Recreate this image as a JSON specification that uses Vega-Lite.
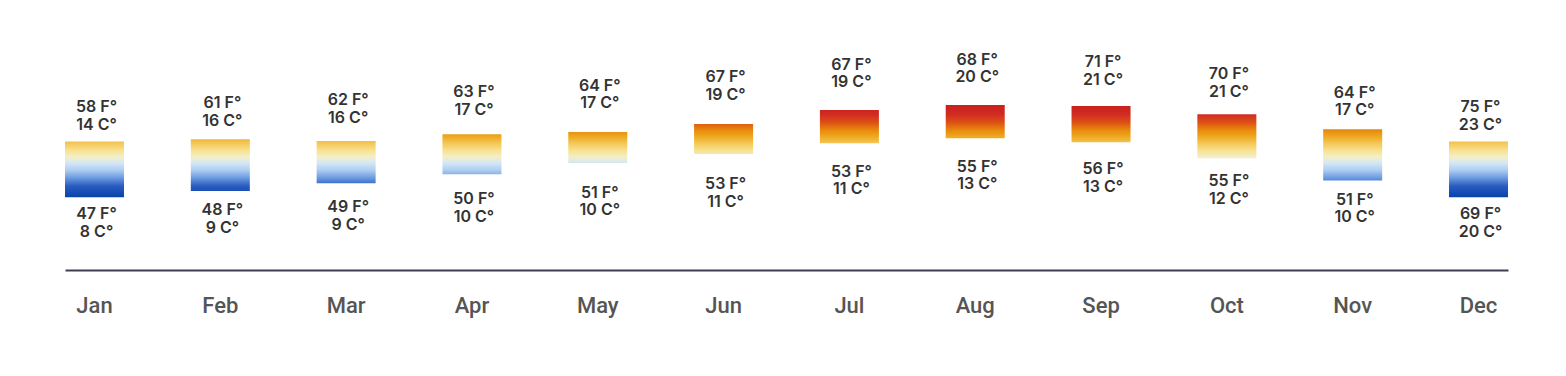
{
  "$schema": "https://vega.github.io/schema/vega-lite/v6.json",
  "width": 1443,
  "height": 270,
  "autosize": {"type": "none"},
  "padding": {"left": 65, "top": 0, "right": 58, "bottom": 106},
  "background": "white",
  "config": {"view": {"stroke": null}},
  "data": {
    "values": [
      {"month": "Jan", "top": 64.2, "bottom": 36.4, "hiF": 58, "hiC": 14, "loF": 47, "loC": 8},
      {"month": "Feb", "top": 65.4, "bottom": 39.5, "hiF": 61, "hiC": 16, "loF": 48, "loC": 9},
      {"month": "Mar", "top": 64.5, "bottom": 43.4, "hiF": 62, "hiC": 16, "loF": 49, "loC": 9},
      {"month": "Apr", "top": 67.9, "bottom": 47.9, "hiF": 63, "hiC": 17, "loF": 50, "loC": 10},
      {"month": "May", "top": 69.0, "bottom": 53.5, "hiF": 64, "hiC": 17, "loF": 51, "loC": 10},
      {"month": "Jun", "top": 73.0, "bottom": 58.0, "hiF": 67, "hiC": 19, "loF": 53, "loC": 11},
      {"month": "Jul", "top": 80.0, "bottom": 63.4, "hiF": 67, "hiC": 19, "loF": 53, "loC": 11},
      {"month": "Aug", "top": 82.5, "bottom": 65.9, "hiF": 68, "hiC": 20, "loF": 55, "loC": 13},
      {"month": "Sep", "top": 82.0, "bottom": 63.9, "hiF": 71, "hiC": 21, "loF": 56, "loC": 13},
      {"month": "Oct", "top": 77.9, "bottom": 55.9, "hiF": 70, "hiC": 21, "loF": 55, "loC": 12},
      {"month": "Nov", "top": 70.4, "bottom": 44.7, "hiF": 64, "hiC": 17, "loF": 51, "loC": 10},
      {"month": "Dec", "top": 64.2, "bottom": 36.4, "hiF": 75, "hiC": 23, "loF": 69, "loC": 20}
    ]
  },
  "transform": [
    {"calculate": "(datum.top + datum.bottom) / 2", "as": "mid"},
    {"calculate": "datum.hiF + ' F°\\n' + datum.hiC + ' C°'", "as": "hiLabel"},
    {"calculate": "datum.loF + ' F°\\n' + datum.loC + ' C°'", "as": "loLabel"}
  ],
  "encoding": {
    "x": {
      "field": "month",
      "type": "ordinal",
      "sort": null,
      "scale": {"paddingInner": 0.531, "paddingOuter": 0},
      "axis": {
        "title": null,
        "labelAngle": 0,
        "ticks": false,
        "grid": false,
        "domainColor": "#3d3e52",
        "domainWidth": 2,
        "labelFont": "Roboto",
        "labelFontSize": 22,
        "labelFontWeight": 500,
        "labelColor": "#555555",
        "labelPadding": 25
      }
    }
  },
  "layer": [
    {
      "mark": {
        "type": "bar",
        "fill": {
          "gradient": "linear",
          "x1": 0, "y1": 0, "x2": 0, "y2": 1,
          "stops": [
            {"offset": 0.0, "color": "#c81f1f"},
            {"offset": 0.106, "color": "#d02a22"},
            {"offset": 0.19, "color": "#dc4d16"},
            {"offset": 0.277, "color": "#e8880c"},
            {"offset": 0.35, "color": "#eeaa22"},
            {"offset": 0.415, "color": "#f3c655"},
            {"offset": 0.49, "color": "#f8e08c"},
            {"offset": 0.564, "color": "#f3efc8"},
            {"offset": 0.628, "color": "#d4e7f7"},
            {"offset": 0.70, "color": "#b0cff2"},
            {"offset": 0.787, "color": "#6b9ae0"},
            {"offset": 0.872, "color": "#2a5cc0"},
            {"offset": 1.0, "color": "#0540aa"}
          ]
        }
      },
      "encoding": {
        "y": {"datum": 83, "type": "quantitative", "scale": {"domain": [0, 135], "nice": false, "zero": false}, "axis": null},
        "y2": {"datum": 36}
      }
    },
    {
      "mark": {"type": "bar", "fill": "white", "width": {"band": 1.1}},
      "encoding": {
        "y": {"field": "top", "type": "quantitative"},
        "y2": {"datum": 84}
      }
    },
    {
      "mark": {"type": "bar", "fill": "white", "width": {"band": 1.1}},
      "encoding": {
        "y": {"field": "bottom", "type": "quantitative"},
        "y2": {"datum": 35}
      }
    },
    {
      "mark": {"type": "text", "baseline": "bottom", "dy": -54, "dx": 2, "lineBreak": "\n", "lineHeight": 17.5, "font": "Inter", "fontSize": 16, "fontWeight": 600, "fill": "#333333"},
      "encoding": {
        "y": {"field": "mid", "type": "quantitative"},
        "text": {"field": "hiLabel", "type": "nominal"}
      }
    },
    {
      "mark": {"type": "text", "baseline": "top", "dy": 37, "dx": 2, "lineBreak": "\n", "lineHeight": 17.5, "font": "Inter", "fontSize": 16, "fontWeight": 600, "fill": "#333333"},
      "encoding": {
        "y": {"field": "mid", "type": "quantitative"},
        "text": {"field": "loLabel", "type": "nominal"}
      }
    }
  ]
}
